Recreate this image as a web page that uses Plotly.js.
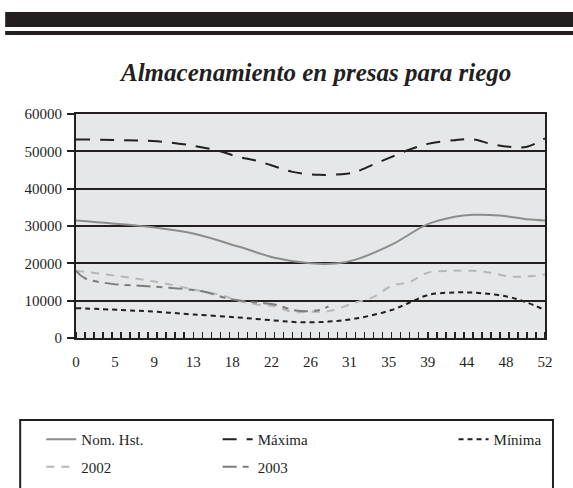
<!DOCTYPE html>
<html>
<head>
<meta charset="utf-8">
<script src="https://cdn.plot.ly/plotly-3.0.1.min.js"></script>
<style>html,body{margin:0;padding:0;background:#fff;}#chart{width:573px;height:488px;}</style>
</head>
<body>
<div id="chart"></div>
<script>
// Data (weeks, storage)
const tickPositions = [0, 4.333, 8.667, 13, 17.333, 21.667, 26, 30.333, 34.667, 39, 43.333, 47.667, 52];
const tickLabels = ["0", "5", "9", "13", "18", "22", "26", "31", "35", "39", "44", "48", "52"];

const nomWeeks = [0, 4, 9, 13, 18, 22, 26, 29, 31, 35, 39, 42, 44, 47, 50, 52];
const nomValues = [31500, 30700, 29500, 28000, 24500, 21500, 20000, 20000, 21000, 25000, 30500, 32500, 33000, 32800, 31800, 31500];

const maxWeeks = [0, 5, 9, 13, 16, 18, 20, 22, 24, 27, 30, 31, 33, 35, 37, 39, 42, 44, 46, 48, 50, 52];
const maxValues = [53200, 53000, 52700, 51500, 50000, 48500, 47500, 46000, 44500, 43700, 44000, 44500, 46500, 48500, 50500, 52000, 53000, 53200, 52000, 51200, 51200, 53500];

const minWeeks = [0, 5, 9, 13, 18, 22, 25, 28, 31, 35, 37, 39, 42, 45, 48, 50, 52];
const minValues = [8000, 7500, 7000, 6300, 5500, 4700, 4200, 4400, 5200, 7500, 9500, 11500, 12200, 12000, 11000, 9500, 7500];

const y2002Weeks = [0, 5, 9, 13, 16, 18, 20, 22, 24, 26, 28, 31, 33, 35, 37, 39, 42, 44, 46, 48, 50, 52];
const y2002Values = [18000, 16500, 15000, 13000, 11500, 10000, 9000, 8500, 7000, 7000, 7200, 9500, 11000, 14000, 15000, 17500, 18000, 18000, 17500, 16500, 16500, 17000];

const y2003Weeks = [0, 1, 4, 7, 10, 14, 17, 20, 22, 24, 25, 27, 28];
const y2003Values = [18000, 16000, 14500, 14000, 13500, 12500, 10500, 9500, 9000, 7500, 7200, 7500, 8500];

const ser = (name, x, y, color, dash, legend, group) => ({
  type: 'scatter', mode: 'lines', name: name, x: x, y: y,
  line: {color: color, width: 2, dash: dash, shape: 'spline', smoothing: 1},
  legend: legend, legendgroup: group, hoverinfo: 'skip'
});

const traces = [
  ser('Nom. Hst.', nomWeeks, nomValues, '#8c8c8c', 'solid', 'legend', 'a'),
  ser('Máxima', maxWeeks, maxValues, '#231f20', '14px,10px', 'legend2', 'b'),
  ser('Mínima', minWeeks, minValues, '#231f20', '5px,4px', 'legend3', 'c'),
  ser('2002', y2002Weeks, y2002Values, '#b8b8b8', '8px,7px', 'legend', 'd'),
  ser('2003', y2003Weeks, y2003Values, '#7c7c7c', '14px,6px,6px,6px', 'legend2', 'e')
];

const FAM = '"Liberation Serif", "Times New Roman", serif';
const font = {family: FAM, size: 15, color: '#231f20'};
const legendBase = {
  orientation: 'v', bgcolor: 'rgba(0,0,0,0)', borderwidth: 0,
  font: {family: FAM, size: 15, color: '#231f20'},
  tracegroupgap: 5, xanchor: 'left', yanchor: 'top', y: -0.38
};

const layout = {
  width: 573, height: 488,
  margin: {l: 76, r: 28, t: 114, b: 150, autoexpand: false},
  paper_bgcolor: '#ffffff',
  plot_bgcolor: '#e6e7e8',
  font: font,
  showlegend: true,
  title: {
    text: '<b><i>Almacenamiento en presas para riego</i></b>',
    font: {family: FAM, size: 25, color: '#231f20'},
    xref: 'paper', x: 0.512, xanchor: 'center',
    yref: 'container', y: 0.852, yanchor: 'middle'
  },
  xaxis: {
    range: [0, 52], tickmode: 'array', tickvals: tickPositions, ticktext: tickLabels,
    ticks: '', showgrid: false, zeroline: false,
    showline: true, linecolor: '#231f20', linewidth: 2, mirror: true,
    ticklabelstandoff: 9,
    tickfont: {family: FAM, size: 15, color: '#231f20'},
    minor: {tickmode: 'linear', tick0: 0, dtick: 1, ticks: 'inside', ticklen: 6, tickwidth: 1.5, tickcolor: '#231f20', showgrid: false}
  },
  yaxis: {
    range: [0, 60000], tickmode: 'linear', tick0: 0, dtick: 10000,
    tickformat: 'd', exponentformat: 'none', separatethousands: false,
    ticks: 'outside', ticklen: 7, tickwidth: 2, tickcolor: '#231f20',
    showgrid: true, gridcolor: '#231f20', gridwidth: 2, zeroline: false,
    showline: true, linecolor: '#231f20', linewidth: 2, mirror: true,
    tickfont: {family: FAM, size: 15, color: '#231f20'},
    ticklabelstandoff: 2
  },
  legend: Object.assign({}, legendBase, {x: -0.074}),
  legend2: Object.assign({}, legendBase, {x: 0.302}),
  legend3: Object.assign({}, legendBase, {x: 0.805}),
  shapes: [
    {type: 'rect', xref: 'paper', yref: 'paper', x0: -0.151, x1: 1.07, y0: 1.388, y1: 1.455, fillcolor: '#231f20', line: {width: 0}},
    {type: 'rect', xref: 'paper', yref: 'paper', x0: -0.151, x1: 1.07, y0: 1.353, y1: 1.371, fillcolor: '#231f20', line: {width: 0}},
    {type: 'rect', xref: 'paper', yref: 'paper', x0: -0.119, x1: 1.017, y0: -0.74, y1: -0.366, fillcolor: 'rgba(0,0,0,0)', line: {color: '#231f20', width: 2}}
  ]
};

Plotly.newPlot('chart', traces, layout, {displayModeBar: false, staticPlot: true});
</script>
</body>
</html>
